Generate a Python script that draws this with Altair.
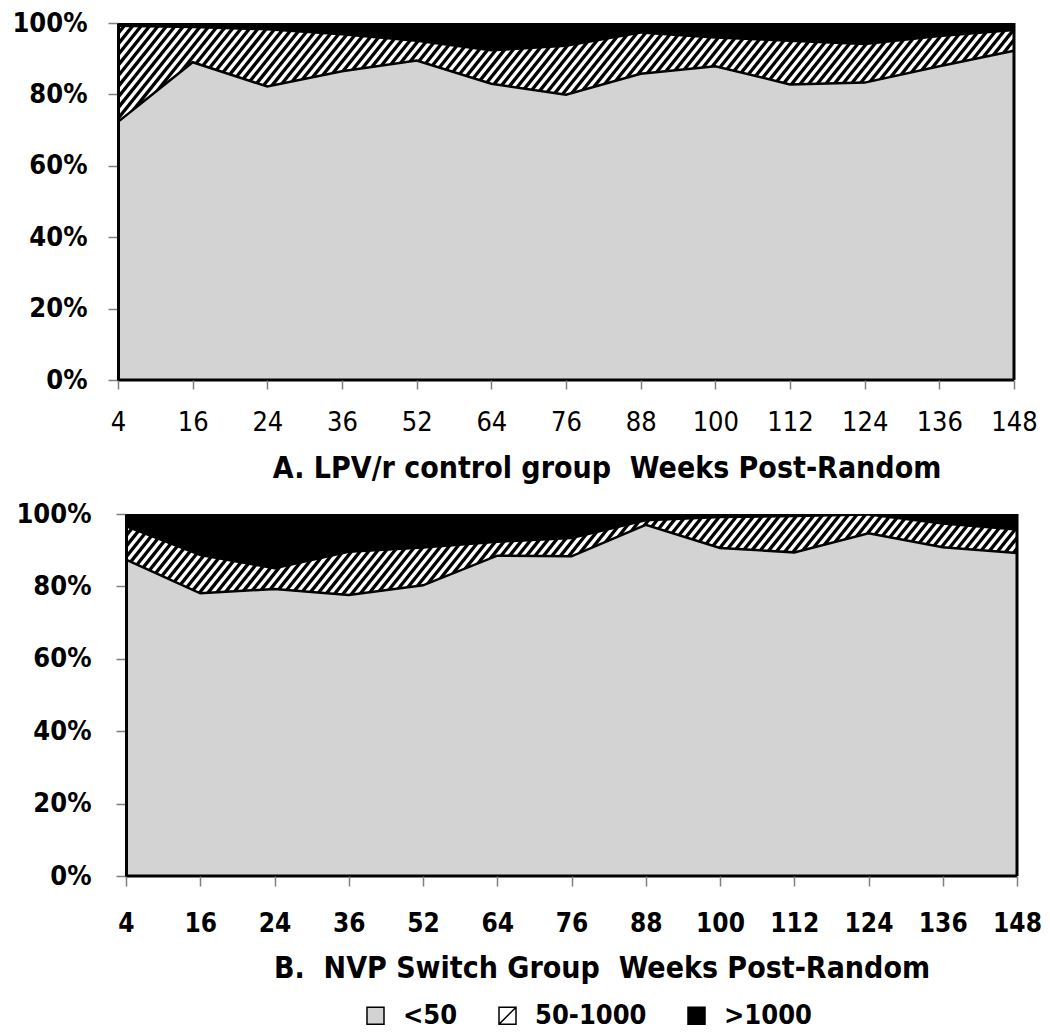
import altair as alt
import numpy as np
import pandas as pd

# ---------------- data (percent of patients per viral-load band) ----------------
weeks = ["4", "16", "24", "36", "52", "64", "76", "88", "100", "112", "124", "136", "148"]
categories = ["<50", "50-1000", ">1000"]

# Panel A: LPV/r control group
a_lt50 = [72.3, 89.0, 82.2, 86.5, 89.5, 83.0, 79.9, 85.8, 87.9, 82.8, 83.3, 87.9, 92.2]
a_mid = [26.6, 9.5, 15.7, 10.0, 5.2, 9.0, 13.4, 11.2, 7.7, 11.9, 10.5, 8.1, 5.5]
a_gt = [1.1, 1.5, 2.1, 3.5, 5.3, 8.0, 6.7, 3.0, 4.4, 5.3, 6.2, 4.0, 2.3]

# Panel B: NVP switch group
b_lt50 = [87.4, 78.1, 79.3, 77.6, 80.3, 88.5, 88.3, 97.0, 90.6, 89.4, 94.7, 90.8, 89.2]
b_mid = [8.9, 10.2, 5.4, 11.6, 10.1, 3.5, 4.7, 0.9, 8.2, 9.7, 4.8, 6.2, 6.2]
b_gt = [3.7, 11.7, 15.3, 10.8, 9.6, 8.0, 7.0, 2.1, 1.2, 0.9, 0.5, 3.0, 4.6]

# ---------------- style ----------------
FONT = "DejaVu Sans Condensed"
GRAY = "#d3d3d3"
STRIPE_PERIOD_PX = 8.5
STRIPE_SLOPE = 1.25
STRIPE_WIDTH = 3.3
HATCH_SYMBOL = "M-1,-1H1V1H-1Z M-1,1L1,-1"

N = len(weeks)
label_expr = "[" + ",".join("'" + w + "'" for w in weeks) + "][datum.value]"


def panel(lt50, mid, gt, W, H, title, title_x, xlab_size, xlab_weight,
          x_tick, x_pad, title_pad, y_pad, lead_px=0.0, with_legend=False):
    """lead_px: empty pixels kept left of the first week (panel B sits 8px to the right)."""
    df = pd.DataFrame({
        "i": list(range(N)),
        "lt": lt50,
        "top": [a + b for a, b in zip(lt50, mid)],
        "gt": gt,
    })
    ppu = W / (N - 1)                 # pixels per week-step
    xmin = -lead_px / ppu
    # hatch pattern (decoration) expressed in the panel's data space
    dx = (H / STRIPE_SLOPE) / ppu
    period = STRIPE_PERIOD_PX / ppu
    starts = np.arange(xmin - dx - period, (N - 1) + period, period)
    stripes = pd.DataFrame({"s": starts, "e": starts + dx, "y0": 0.0, "y1": 100.0})

    xscale = alt.Scale(domain=[xmin, N - 1], nice=False, zero=False)
    yscale = alt.Scale(domain=[0, 100], nice=False, zero=False)
    xaxis = alt.Axis(
        values=list(range(N)), labelExpr=label_expr, labelFlush=False, labelOverlap=False,
        grid=False, tickSize=x_tick, tickColor="#7f7f7f", tickWidth=1.5,
        domain=False,
        labelFont=FONT, labelFontSize=xlab_size, labelFontWeight=xlab_weight,
        labelColor="black", labelPadding=x_pad,
        title=title, titleFont=FONT, titleFontSize=30, titleFontWeight="bold",
        titleColor="black", titlePadding=title_pad, titleX=title_x, zindex=2,
    )
    yaxis = alt.Axis(
        values=[0, 20, 40, 60, 80, 100], labelExpr="datum.value + '%'",
        grid=False, tickSize=10, tickColor="#7f7f7f", tickWidth=1.5,
        domainColor="black", domainWidth=3, offset=-lead_px,
        labelFont=FONT, labelFontSize=27, labelFontWeight="bold", labelColor="black",
        labelPadding=y_pad, minExtent=109, maxExtent=109, title=None, zindex=2,
    )
    X = lambda f: alt.X(f, scale=xscale, axis=xaxis)
    Y = lambda f: alt.Y(f, scale=yscale, axis=yaxis)

    hatch = alt.Chart(stripes).mark_rule(color="black", strokeWidth=STRIPE_WIDTH, clip=True).encode(
        x=X("s:Q"), x2="e:Q", y=Y("y0:Q"), y2="y1:Q",
    )
    base = alt.Chart(df)
    black = base.mark_area(color="black", opacity=1).encode(
        x=X("i:Q"), y=Y("top:Q"), y2=alt.datum(100),
    )
    gray = base.mark_area(color=GRAY, opacity=1).encode(
        x=X("i:Q"), y=Y("lt:Q"), y2=alt.datum(0),
    )
    gray_edge = base.mark_line(color="black", strokeWidth=2.5).encode(
        x=X("i:Q"), y=Y("lt:Q"),
    )
    frame = alt.Chart(df.head(1))
    right = frame.mark_rule(color="black", strokeWidth=3).encode(x=alt.datum(N - 1))
    bottom = frame.mark_rule(color="black", strokeWidth=3).encode(
        x=alt.datum(0), x2=alt.datum(N - 1), y=alt.datum(0),
    )
    layers = [hatch]
    if lead_px > 0:
        blank = frame.mark_rect(color="white").encode(
            x=alt.datum(xmin - 3.0 / ppu), x2=alt.datum(0), y=alt.datum(-1), y2=alt.datum(101),
        )
        layers.append(blank)
    layers += [black, gray, gray_edge, right, bottom]
    if with_legend:
        leg_df = pd.DataFrame({"band": categories, "i": [0, 0, 0], "v": [0, 0, 0]})
        leg = alt.Legend(
            orient="none", legendX=244, legendY=488, direction="horizontal", title=None,
            symbolSize=289, symbolStrokeColor="black", symbolStrokeWidth=1.5, symbolOpacity=1,
            labelFont=FONT, labelFontSize=27, labelFontWeight="bold", labelColor="black",
            labelOffset=14, columnPadding=36, padding=0,
        )
        pts = alt.Chart(leg_df).mark_point(filled=True, opacity=0, strokeWidth=1.5).encode(
            x=X("i:Q"), y=Y("v:Q"),
            fill=alt.Fill("band:N", scale=alt.Scale(domain=categories, range=[GRAY, "white", "black"]), legend=leg),
            shape=alt.Shape("band:N", scale=alt.Scale(domain=categories, range=["square", HATCH_SYMBOL, "square"]), legend=leg),
            stroke=alt.Stroke("band:N", scale=alt.Scale(domain=categories, range=["black", "black", "black"]), legend=leg),
        )
        layers.append(pts)
    return alt.layer(*layers).properties(width=W + lead_px, height=H)


panel_a = panel(a_lt50, a_mid, a_gt, 896, 357,
                "A. LPV/r control group\u00a0 Weeks Post-Random", 488.5,
                27, "normal", 9, 20, 18, 21)
panel_b = panel(b_lt50, b_mid, b_gt, 891, 362,
                "B.\u00a0 NVP Switch Group\u00a0 Weeks Post-Random", 483.5,
                26, "bold", 10, 24, 17, 25, lead_px=8, with_legend=True)

chart = alt.vconcat(panel_a, panel_b, spacing=15).resolve_scale(
    x="independent", y="independent", fill="independent", shape="independent", stroke="independent"
).properties(
    padding={"top": 0, "bottom": 1, "left": 0, "right": 0}
).configure_view(stroke=None).configure(font=FONT)

chart.save("out.html", embed_options={"renderer": "svg", "actions": False})
